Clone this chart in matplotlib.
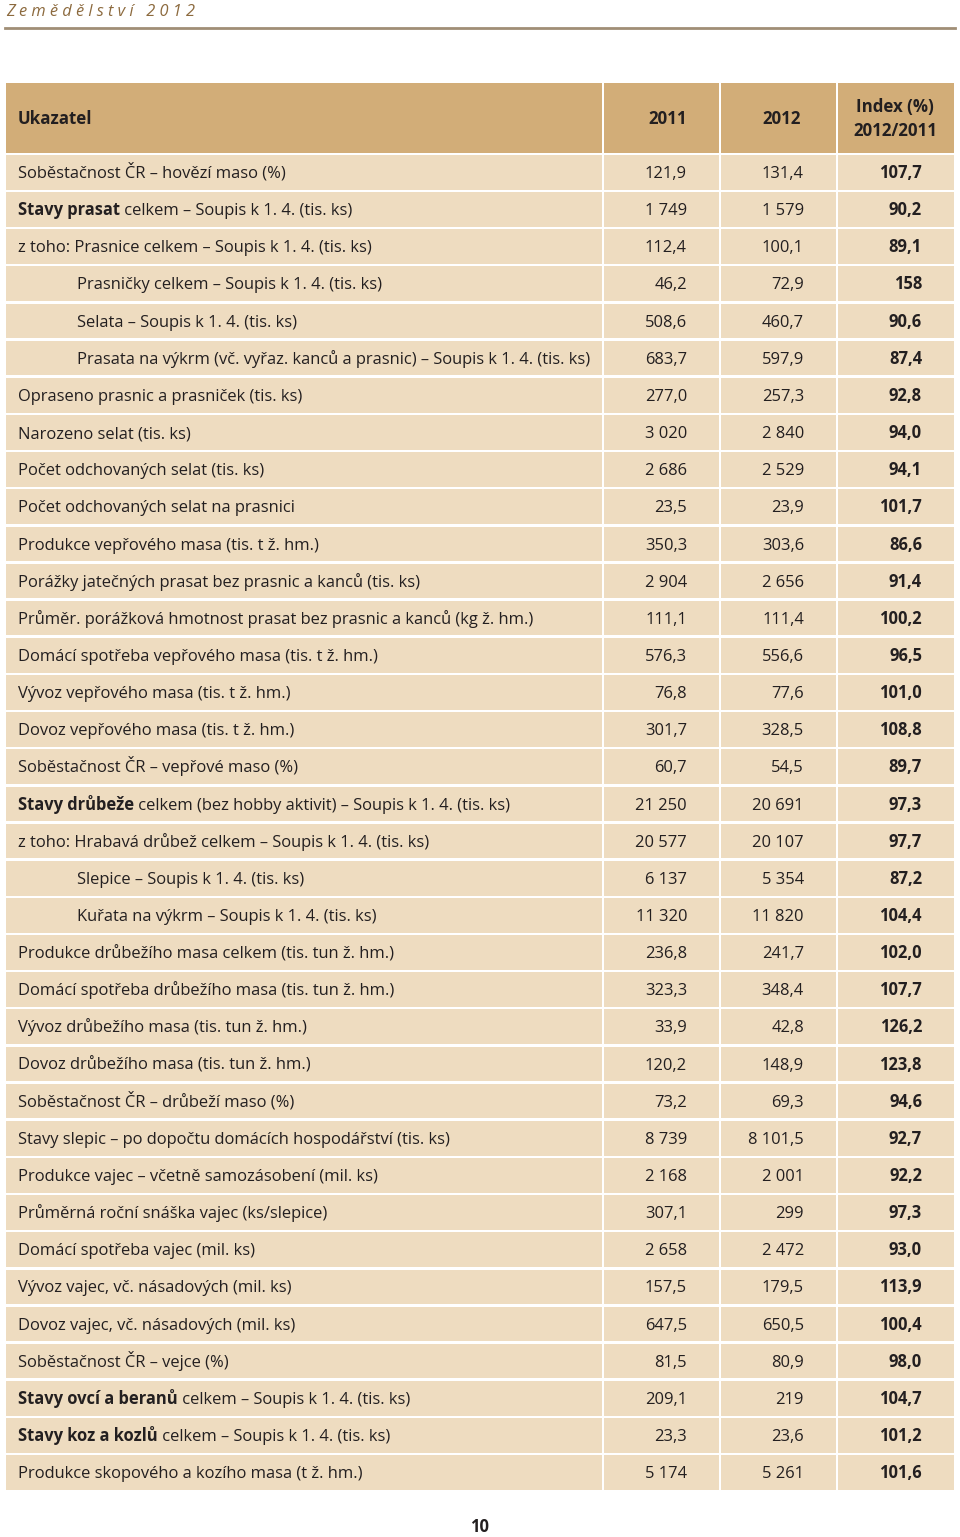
import matplotlib
matplotlib.use('Agg')
import matplotlib.pyplot as plt
from matplotlib.patches import Rectangle
from matplotlib.transforms import offset_copy

# =====================================================================
# Table data
# =====================================================================
header_labels = ['Ukazatel', '2011', '2012', 'Index (%)\n2012/2011']

bold_parts = [
    '', 'Stavy prasat', '', '', '', '', '', '', '', '', '', '', '', '', '', '', '',
    'Stavy drůbeže', '', '', '', '', '', '', '', '', '', '', '', '', '', '', '',
    'Stavy ovcí a beranů', 'Stavy koz a kozlů', '',
]
plain_parts = [
    'Soběstačnost ČR – hovězí maso (%)',
    ' celkem – Soupis k 1. 4. (tis. ks)',
    'z toho: Prasnice celkem – Soupis k 1. 4. (tis. ks)',
    'Prasničky celkem – Soupis k 1. 4. (tis. ks)',
    'Selata – Soupis k 1. 4. (tis. ks)',
    'Prasata na výkrm (vč. vyřaz. kanců a prasnic) – Soupis k 1. 4. (tis. ks)',
    'Opraseno prasnic a prasniček (tis. ks)',
    'Narozeno selat (tis. ks)',
    'Počet odchovaných selat (tis. ks)',
    'Počet odchovaných selat na prasnici',
    'Produkce vepřového masa (tis. t ž. hm.)',
    'Porážky jatečných prasat bez prasnic a kanců (tis. ks)',
    'Průměr. porážková hmotnost prasat bez prasnic a kanců (kg ž. hm.)',
    'Domácí spotřeba vepřového masa (tis. t ž. hm.)',
    'Vývoz vepřového masa (tis. t ž. hm.)',
    'Dovoz vepřového masa (tis. t ž. hm.)',
    'Soběstačnost ČR – vepřové maso (%)',
    ' celkem (bez hobby aktivit) – Soupis k 1. 4. (tis. ks)',
    'z toho: Hrabavá drůbež celkem – Soupis k 1. 4. (tis. ks)',
    'Slepice – Soupis k 1. 4. (tis. ks)',
    'Kuřata na výkrm – Soupis k 1. 4. (tis. ks)',
    'Produkce drůbežího masa celkem (tis. tun ž. hm.)',
    'Domácí spotřeba drůbežího masa (tis. tun ž. hm.)',
    'Vývoz drůbežího masa (tis. tun ž. hm.)',
    'Dovoz drůbežího masa (tis. tun ž. hm.)',
    'Soběstačnost ČR – drůbeží maso (%)',
    'Stavy slepic – po dopočtu domácích hospodářství (tis. ks)',
    'Produkce vajec – včetně samozásobení (mil. ks)',
    'Průměrná roční snáška vajec (ks/slepice)',
    'Domácí spotřeba vajec (mil. ks)',
    'Vývoz vajec, vč. násadových (mil. ks)',
    'Dovoz vajec, vč. násadových (mil. ks)',
    'Soběstačnost ČR – vejce (%)',
    ' celkem – Soupis k 1. 4. (tis. ks)',
    ' celkem – Soupis k 1. 4. (tis. ks)',
    'Produkce skopového a kozího masa (t ž. hm.)',
]
indented_rows = [3, 4, 5, 19, 20]

values_2011 = [
    '121,9', '1 749', '112,4', '46,2', '508,6', '683,7', '277,0', '3 020',
    '2 686', '23,5', '350,3', '2 904', '111,1', '576,3', '76,8', '301,7',
    '60,7', '21 250', '20 577', '6 137', '11 320', '236,8', '323,3', '33,9',
    '120,2', '73,2', '8 739', '2 168', '307,1', '2 658', '157,5', '647,5',
    '81,5', '209,1', '23,3', '5 174',
]
values_2012 = [
    '131,4', '1 579', '100,1', '72,9', '460,7', '597,9', '257,3', '2 840',
    '2 529', '23,9', '303,6', '2 656', '111,4', '556,6', '77,6', '328,5',
    '54,5', '20 691', '20 107', '5 354', '11 820', '241,7', '348,4', '42,8',
    '148,9', '69,3', '8 101,5', '2 001', '299', '2 472', '179,5', '650,5',
    '80,9', '219', '23,6', '5 261',
]
index_values = [
    '107,7', '90,2', '89,1', '158', '90,6', '87,4', '92,8', '94,0',
    '94,1', '101,7', '86,6', '91,4', '100,2', '96,5', '101,0', '108,8',
    '89,7', '97,3', '97,7', '87,2', '104,4', '102,0', '107,7', '126,2',
    '123,8', '94,6', '92,7', '92,2', '97,3', '93,0', '113,9', '100,4',
    '98,0', '104,7', '101,2', '101,6',
]

# =====================================================================
# Layout
# =====================================================================
W, H = 960, 1537
header_color = '#D2AD78'
row_color = '#EEDCC0'
text_color = '#231F20'
font = 'Open Sans'
fs = 11.9

col_edges = [6, 603, 720, 837, 954]
gap = 2.5
header_top, header_bottom = 83, 153
row_top0 = 155
row_h = 37.15
baseline_off = 23
num_right = [None, 687, 804, 922]

fig = plt.figure(figsize=(W / 100, H / 100), dpi=100)
ax = fig.add_axes([0, 0, 1, 1])
ax.set_xlim(0, W)
ax.set_ylim(H, 0)
ax.axis('off')

# page title and rule
ax.text(6, 12, 'Z e m ě d ě l s t v í   2 0 1 2', fontsize=11.8, style='italic',
        color='#8C6A3E', family=font, va='center', ha='left')
ax.plot([5, 955], [27.5, 27.5], color='#A08E76', lw=2)

# header row
for c in range(4):
    x0 = col_edges[c] + (0 if c == 0 else gap / 2)
    x1 = col_edges[c + 1] - (gap / 2 if c < 3 else 0)
    ax.add_patch(Rectangle((x0, header_top), x1 - x0, header_bottom - header_top,
                           color=header_color, lw=0))
hy = (header_top + header_bottom) / 2 + 1
ax.text(18, hy, header_labels[0], fontsize=12.2, fontweight='bold',
        family=font, color=text_color, va='center', ha='left')
ax.text(num_right[1], hy, header_labels[1], fontsize=12.2, fontweight='bold',
        family=font, color=text_color, va='center', ha='right')
ax.text(num_right[2] - 3, hy, header_labels[2], fontsize=12.2, fontweight='bold',
        family=font, color=text_color, va='center', ha='right')
ax.text(895, hy, header_labels[3], fontsize=12.2, fontweight='bold',
        family=font, color=text_color, va='center', ha='center', linespacing=1.45)

# body rows
fig.canvas.draw()
renderer = fig.canvas.get_renderer()
for i in range(len(plain_parts)):
    y0 = row_top0 + i * row_h
    y1 = y0 + row_h - gap
    for c in range(4):
        x0 = col_edges[c] + (0 if c == 0 else gap / 2)
        x1 = col_edges[c + 1] - (gap / 2 if c < 3 else 0)
        ax.add_patch(Rectangle((x0, y0), x1 - x0, y1 - y0, color=row_color, lw=0))
    yb = y0 + baseline_off
    x_text = 77 if i in indented_rows else 18
    offset = 0
    if bold_parts[i]:
        t = ax.text(x_text, yb, bold_parts[i], fontsize=fs, fontweight='bold',
                    family=font, color=text_color, va='baseline', ha='left')
        offset = t.get_window_extent(renderer).width
    ax.text(x_text, yb, plain_parts[i], fontsize=fs, family=font, color=text_color,
            va='baseline', ha='left',
            transform=offset_copy(ax.transData, fig=fig, x=offset, y=0, units='dots'))
    ax.text(num_right[1], yb, values_2011[i], fontsize=fs, family=font,
            color=text_color, va='baseline', ha='right')
    ax.text(num_right[2], yb, values_2012[i], fontsize=fs, family=font,
            color=text_color, va='baseline', ha='right')
    ax.text(num_right[3], yb, index_values[i], fontsize=fs, fontweight='bold',
            family=font, color=text_color, va='baseline', ha='right')

# page number
ax.text(480, 1527, '10', fontsize=fs, fontweight='bold', family=font,
        color=text_color, va='center', ha='center')

fig.savefig('out.png', dpi=100, facecolor='white')
